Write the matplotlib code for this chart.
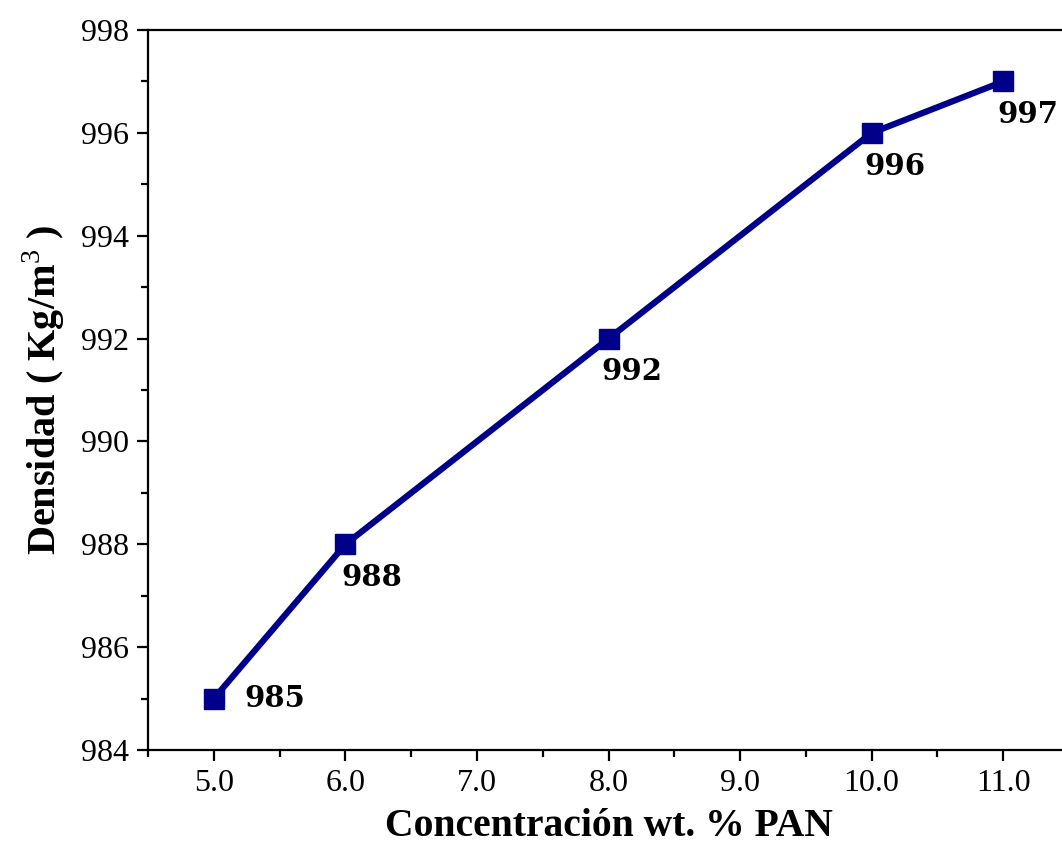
import numpy as np
import matplotlib.pyplot as plt
from matplotlib.ticker import MultipleLocator, FormatStrFormatter

# ----------- densidad vs concentracion ---------
concentracion = [5.0, 6.0, 8.0, 10.0, 11.0]
densidad      = [985, 988, 992, 996, 997]
etiquetas     = ['985', '988', '992', '996', '997']
offsets       = [(44, 0), (19, -24), (17, -24), (17, -24), (18, -24)]

plt.rcParams['font.family'] = ['Liberation Serif', 'DejaVu Serif']
plt.rcParams['mathtext.fontset'] = 'custom'
plt.rcParams['mathtext.rm'] = 'Liberation Serif'

fig = plt.figure(figsize=(10.62, 8.47), dpi=100)
ax = fig.add_axes([0.1394, 0.1145, 0.8672, 0.850])

ax.plot(concentracion, densidad, color='#00008B', lw=4.5,
        marker='s', markersize=14, solid_capstyle='round')

for x, y, t, off in zip(concentracion, densidad, etiquetas, offsets):
    ax.annotate(t, (x, y), xytext=off, textcoords='offset points',
                ha='center', va='center', fontsize=21, fontweight='bold',
                family='DejaVu Serif', color='black')

ax.set_xlim(4.5, 11.5)
ax.set_ylim(984, 998)
ax.xaxis.set_major_locator(MultipleLocator(1.0))
ax.xaxis.set_minor_locator(MultipleLocator(0.5))
ax.xaxis.set_major_formatter(FormatStrFormatter('%.1f'))
ax.yaxis.set_major_locator(MultipleLocator(2))
ax.yaxis.set_minor_locator(MultipleLocator(1))

ax.tick_params(which='major', direction='out', length=8, width=1.6,
               labelsize=23, pad=6)
ax.tick_params(which='minor', direction='out', length=5, width=1.6)
ax.spines['right'].set_visible(False)
for s in ['left', 'bottom', 'top']:
    ax.spines[s].set_linewidth(1.6)

ax.set_xlabel('Concentración wt. % PAN', fontsize=28.5, fontweight='bold', labelpad=7)
ax.set_ylabel('Densidad ( Kg/m$^{\\mathrm{3}}$ )', fontsize=29, fontweight='bold', labelpad=10)

plt.savefig('out.png', dpi=100)
